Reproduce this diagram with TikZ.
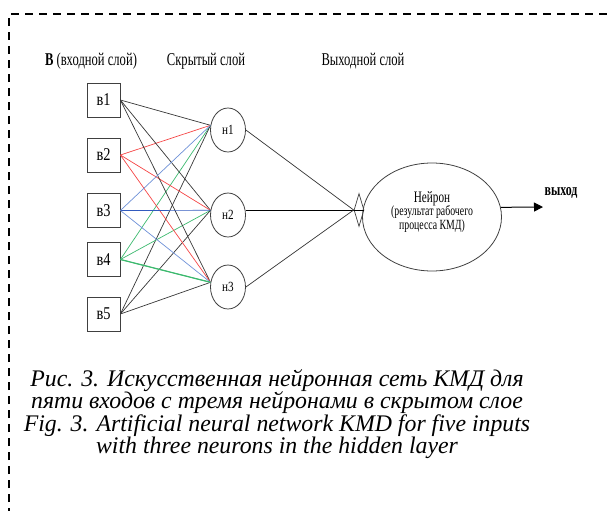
\documentclass[tikz,border=0pt]{standalone}
\usepackage{fontspec}
\setmainfont{Liberation Serif}
\newfontfamily\narrowserif[FakeStretch=0.7]{Liberation Serif}
\newfontfamily\labelserif[FakeStretch=0.8]{Liberation Serif}
\usetikzlibrary{shapes.geometric,arrows.meta}

\definecolor{linkgray}{RGB}{55,55,55}
\definecolor{linkred}{RGB}{245,70,70}
\definecolor{linkblue}{RGB}{110,145,215}
\definecolor{linkbluedark}{RGB}{50,90,190}
\definecolor{linkgreen}{RGB}{60,185,110}

\begin{document}
\begin{tikzpicture}[x=1pt,y=-1pt,
  frame/.style={line width=1.6pt, dash pattern=on 8pt off 6pt},
  header/.style={font=\narrowserif\fontsize{18}{18}\selectfont, inner sep=0pt},
  inbox/.style={draw=black!75, line width=0.8pt, minimum width=33pt, minimum height=34pt,
    inner sep=0pt, font=\labelserif\fontsize{18}{18}\selectfont},
  hidden/.style={ellipse, draw=black!75, line width=0.8pt, minimum width=35pt,
    minimum height=44pt, inner sep=0pt, font=\labelserif\fontsize{14}{14}\selectfont},
  joint/.style={diamond, draw=black!75, line width=0.7pt, minimum width=10pt,
    minimum height=33pt, inner sep=0pt},
  outer/.style={ellipse, draw=black!75, line width=0.8pt, minimum width=139pt,
    minimum height=108pt, inner sep=0pt},
  link/.style={line width=0.7pt},
  arrowline/.style={line width=1pt, -{Triangle[length=9pt,width=9pt]}},
]
\useasboundingbox (0,0) rectangle (613,511);
\clip (0,0) rectangle (613,511);

% dashed frame (runs past the right and bottom edges)
\draw[frame] (9,530) -- (9,14) -- (630,14);

% layer headings
\node[header] (hin)  at (91,61)  {{\bfseries В} (входной слой)};
\node[header] (hhid) at (206,61) {Скрытый слой};
\node[header] (hout) at (363,61) {Выходной слой};

% input layer
\node[inbox] (b1) at (103.5,100)   {в1};
\node[inbox] (b2) at (103.5,155)   {в2};
\node[inbox] (b3) at (103.5,210.5) {в3};
\node[inbox] (b4) at (103.5,259.5) {в4};
\node[inbox] (b5) at (103.5,314)   {в5};

% hidden layer
\node[hidden] (h1) at (228,130) {н1};
\node[hidden] (h2) at (228,215) {н2};
\node[hidden] (h3) at (228,287) {н3};

% output neuron
\node[joint] (join) at (359,210) {};
\node[outer] (out) at (432,217) {};
\node[font=\narrowserif, align=center, inner sep=0pt] (outtext) at (432,212)
  {{\fontsize{16}{17}\selectfont Нейрон}\\[-1pt]
   {\fontsize{14}{16}\selectfont (результат рабочего}\\
   {\fontsize{14}{16}\selectfont процесса КМД)}};

% input -> hidden connections
\foreach \h in {h1,h2,h3} {
  \draw[link, linkgray] (b1.east) -- (\h.165);
  \draw[link, linkred]  (b2.east) -- (\h.165);
  \draw[link, linkgreen] (b4.east) -- (\h.165);
  \draw[link, linkgray] (b5.east) -- (\h.165);
}
\draw[link, linkblue] (b3.east) -- (h1.165);
\draw[link, linkbluedark] (b3.east) -- (h2.165);
\draw[link, linkblue] (b3.east) -- (h3.165);
\draw[line width=1.2pt, linkgreen] (b4.east) -- (h3.165);

% hidden -> output
\draw[link, black!80] (h1.east) -- (join.west);
\draw[link, black] (h2.east |- join) -- (join.east);
\draw[link, black!80] (h3.east) -- (join.west);

% output arrow
\coordinate (yend) at (543,207);
\draw[arrowline] (out.8) -- (yend);
\node[font=\narrowserif\bfseries\fontsize{17}{17}\selectfont, inner sep=0pt] (ylab) at (561,193) {выход};

% caption
\node[font=\itshape\fontsize{23.8}{22.5}\selectfont, align=center, inner sep=0pt] (cap) at (277,414)
  {Рис. 3. Искусственная нейронная сеть КМД для\\
   пяти входов с тремя нейронами в скрытом слое\\
   Fig. 3. Artificial neural network KMD for five inputs\\
   with three neurons in the hidden layer};
\end{tikzpicture}
\end{document}
